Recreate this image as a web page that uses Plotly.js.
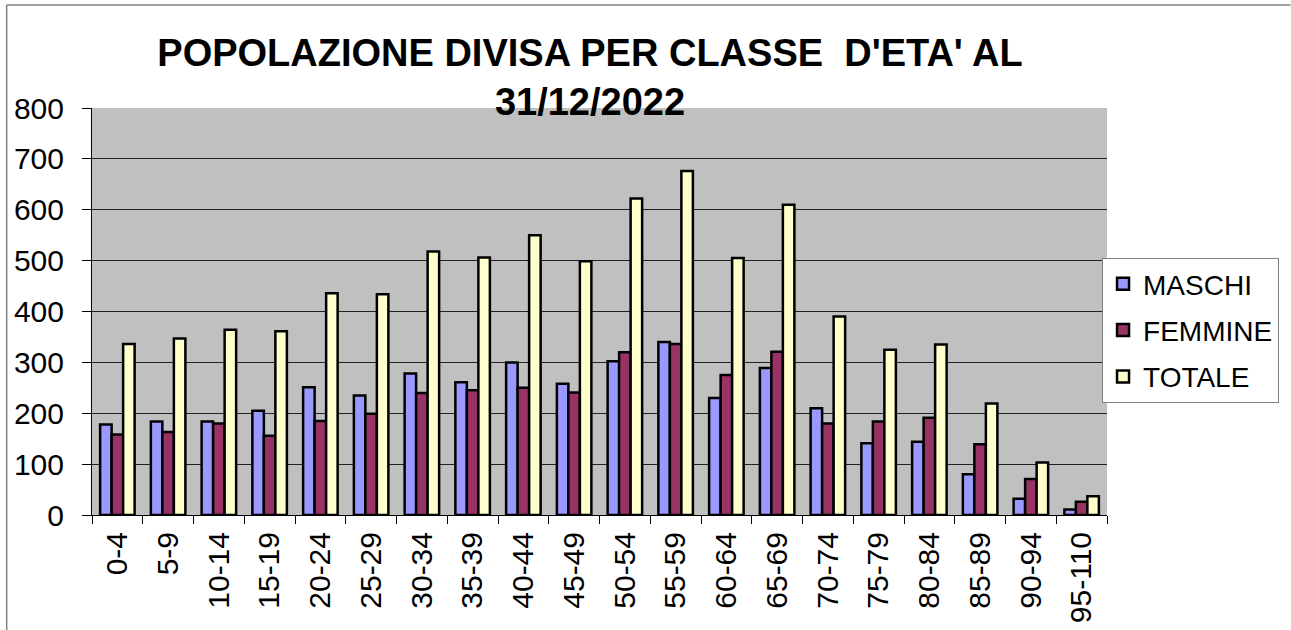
<!DOCTYPE html>
<html>
<head>
<meta charset="utf-8">
<script src="https://cdn.plot.ly/plotly-3.0.1.min.js"></script>
<style>html,body{margin:0;padding:0;background:#fff;}#chart{width:1291px;height:630px;}</style>
</head>
<body>
<div id="chart"></div>
<script>
const categories = ["0-4","5-9","10-14","15-19","20-24","25-29","30-34","35-39","40-44","45-49","50-54","55-59","60-64","65-69","70-74","75-79","80-84","85-89","90-94","95-110"];
const maschi  = [178,184,184,205,251,235,278,261,300,258,302,340,230,289,210,141,144,80,32,11];
const femmine = [158,163,180,156,185,199,240,245,250,241,320,336,275,321,180,184,191,139,71,26];
const totale  = [336,347,364,361,436,434,518,506,550,499,622,676,505,610,390,325,335,219,103,37];
const seriesNames = ["MASCHI","FEMMINE","TOTALE"];
const seriesColors = ["#9999ff","#993366","#ffffcc"];
const yTicks = [0,100,200,300,400,500,600,700,800];

const FONT = "Liberation Sans, Arial, sans-serif";
const data = [maschi, femmine, totale].map((vals, i) => ({
  type: "bar",
  name: seriesNames[i],
  x: categories,
  y: vals,
  legendgroup: "g" + i,
  marker: {color: seriesColors[i], line: {color: "#000", width: 2.5}}
}));

const layout = {
  width: 1291, height: 630,
  margin: {l: 92, r: 176, t: 108, b: 115},
  paper_bgcolor: "#fff",
  plot_bgcolor: "#c0c0c0",
  font: {family: FONT, color: "#000"},
  bargap: 0.32,
  bargroupgap: 0,
  title: {
    text: "<b>POPOLAZIONE DIVISA PER CLASSE  D'ETA' AL<br>31/12/2022</b>",
    font: {family: FONT, size: 38, color: "#000"},
    x: 590/1291, xanchor: "center", xref: "container",
    y: 1 - 66/630, yanchor: "top", yref: "container"
  },
  xaxis: {
    type: "category",
    tickangle: -90,
    tickfont: {size: 30, family: FONT},
    ticks: "outside", ticklen: 8, tickcolor: "#000", tickwidth: 1,
    tickson: "boundaries",
    showline: true, linecolor: "#000", linewidth: 1,
    showgrid: false,
    ticklabelstandoff: 4
  },
  yaxis: {
    range: [0, 800],
    tickvals: yTicks,
    tickfont: {size: 30, family: FONT},
    ticks: "outside", ticklen: 9, tickcolor: "#000", tickwidth: 1,
    showline: true, linecolor: "#000", linewidth: 1,
    showgrid: true, gridcolor: "#222", gridwidth: 1,
    zeroline: false,
    ticklabelstandoff: 12
  },
  legend: {
    x: (1110 - 92) / 1023, xanchor: "left",
    y: (515 - 258) / 407, yanchor: "top",
    bgcolor: "#fff", bordercolor: "#808080", borderwidth: 1,
    font: {size: 28, family: FONT},
    traceorder: "grouped", tracegroupgap: 7,
    itemwidth: 30
  },
  shapes: [
    {type: "line", xref: "paper", yref: "paper", x0: (6-92)/1023, x1: (1300-92)/1023, y0: (515-5)/407, y1: (515-5)/407, line: {color: "#808080", width: 1.5}},
    {type: "line", xref: "paper", yref: "paper", x0: (6-92)/1023, x1: (6-92)/1023, y0: (515-5)/407, y1: (515-640)/407, line: {color: "#808080", width: 1.5}}
  ]
};

Plotly.newPlot("chart", data, layout, {displayModeBar: false, staticPlot: true});
</script>
</body>
</html>
